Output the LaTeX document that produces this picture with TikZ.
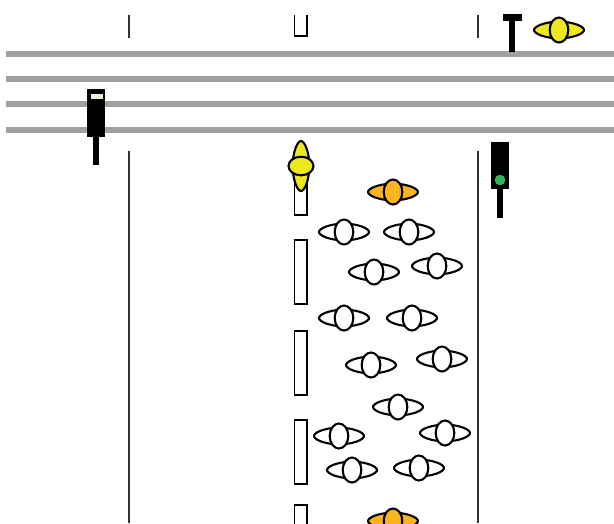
\documentclass[tikz,border=0pt]{standalone}
\definecolor{rail}{HTML}{A0A0A0}
\definecolor{byellow}{HTML}{EEE71C}
\definecolor{borange}{HTML}{FBB41E}
\definecolor{sgreen}{HTML}{2DB75A}
\definecolor{scream}{HTML}{EFEBD8}
\tikzset{
  rail/.style={draw=rail,line width=6pt},
  curb/.style={draw=black!80,line width=1.3pt},
  dashbox/.style={draw=black,fill=white,line width=1.8pt},
  mass/.style={fill=black,draw=none},
  outl/.style={draw=black,line width=2.1pt,line join=round},
  pics/bike/.style={code={
    \path[outl,fill=#1] (-25,0) .. controls (-25,-3.5) and (-15,-8) .. (0,-8.5)
       .. controls (15,-8) and (25,-3.5) .. (25,0)
       .. controls (25,3.5) and (15,8) .. (0,8.5)
       .. controls (-15,8) and (-25,3.5) .. (-25,0) -- cycle;
    \path[outl,fill=#1] (0,0) ellipse [x radius=9.3, y radius=12.5];
  }}
}
\begin{document}
\begin{tikzpicture}[x=1pt,y=-1pt]
\useasboundingbox (0,0) rectangle (614,523);
\clip (0,0) rectangle (614,523);
% tracks
\foreach \y in {54,79,104,130} \draw[rail] (6,\y) -- (614,\y);
% curbs
\draw[curb] (129,15) -- (129,38);
\draw[curb] (129,151) -- (129,523);
\draw[curb] (478,15) -- (478,38);
\draw[curb] (478,151) -- (478,523);
% lane dashes
\draw[dashbox] (294.5,15) -- (294.5,36) -- (307,36) -- (307,15);
\draw[dashbox] (294.5,150) rectangle (307,215);
\draw[dashbox] (294.5,240) rectangle (307,304);
\draw[dashbox] (294.5,331) rectangle (307,395);
\draw[dashbox] (294.5,420) rectangle (307,484);
\draw[dashbox] (294.5,505) rectangle (307,530);
% left signal
\fill[mass] (87,89) rectangle (105,137);
\fill[mass] (93,137) rectangle (99,165);
\fill[scream] (91,94) rectangle (103,99);
% right signal
\fill[mass] (491,142) rectangle (509,189);
\fill[mass] (497,189) rectangle (503,218);
\fill[sgreen] (500,180) circle (5.3);
% top right signal
\fill[mass] (503,14) rectangle (522,21);
\fill[mass] (509,14) rectangle (515,52);
% cyclists
\foreach \x/\y in {344/232,409/232,374/272,437/266,344/318,412/318,371/365,442/359,398/407,339/436,445/433,352/470,419/468}
  \pic at (\x,\y) {bike=white};
\pic at (393,192) {bike=borange};
\pic at (393,521) {bike=borange};
\pic at (559,30) {bike=byellow};
\pic[rotate=90] at (301,166) {bike=byellow};
\end{tikzpicture}
\end{document}
